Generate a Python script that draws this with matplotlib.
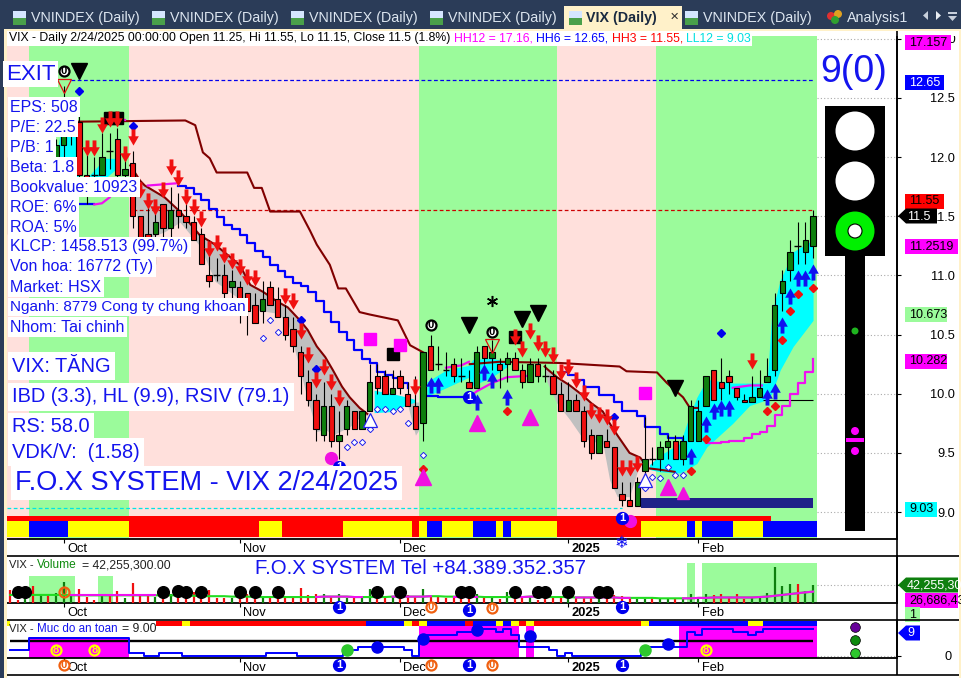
import numpy as np
import matplotlib
matplotlib.use('Agg')

import matplotlib.pyplot as plt
from matplotlib.path import Path
from matplotlib.patches import Rectangle, Circle, Polygon

plt.rcParams['font.family'] = ['Liberation Sans', 'DejaVu Sans']

# daily bars, index 0..105
opens = [12.0,11.9,11.7,11.95,11.75,11.95,11.85,12.1,12.2,12.3,11.85,11.85,11.85,12.05,12.15,11.85,11.95,11.5,11.35,11.35,
         11.6,11.4,11.55,11.5,11.45,11.35,11.0,11.0,11.0,10.9,10.9,10.85,10.75,10.7,10.9,10.8,10.65,10.55,10.35,10.1,
         9.95,9.65,9.9,9.6,9.7,9.85,9.7,9.85,10.15,10.15,10.0,10.15,10.0,9.9,9.75,10.4,10.25,10.2,10.25,10.15,
         10.1,10.05,10.4,10.3,10.25,10.25,10.3,10.2,10.1,10.25,10.15,10.15,10.0,9.85,9.95,9.85,9.65,9.5,9.6,9.55,
         9.15,9.1,9.05,9.35,9.45,9.45,9.55,9.6,9.45,9.6,9.6,9.9,10.2,10.1,10.15,10.05,9.95,9.93,9.97,10.1,
         10.2,10.85,11.05,11.25,11.2,11.25]
highs = [12.0,12.0,11.9,12.0,12.0,12.05,12.15,12.6,12.4,12.35,12.05,12.0,12.2,12.2,12.25,12.05,12.05,11.5,11.6,11.55,
         11.6,11.75,11.7,11.6,11.5,11.4,11.3,11.15,11.1,11.05,10.95,10.85,10.85,10.95,10.95,10.9,10.75,10.65,10.4,10.2,
         10.0,10.1,10.0,9.85,9.95,9.85,9.85,10.25,10.25,10.2,10.2,10.2,10.1,10.15,10.35,10.5,10.4,10.35,10.3,10.3,
         10.2,10.4,10.4,10.45,10.3,10.35,10.35,10.25,10.3,10.3,10.25,10.2,10.1,10.1,10.0,9.9,9.7,9.65,9.7,9.55,
         9.25,9.25,9.3,9.8,9.55,9.6,9.65,9.65,9.65,9.95,9.95,10.15,10.2,10.3,10.2,10.05,10.0,10.15,10.2,10.3,
         10.85,11.05,11.3,11.45,11.45,11.55]
lows = [11.25,11.5,11.5,11.7,11.6,11.8,11.8,12.0,12.1,11.75,11.6,11.7,11.85,11.9,11.8,11.8,11.4,11.2,11.05,11.1,
        11.3,11.25,11.4,11.4,11.3,11.1,10.9,10.95,10.8,10.8,10.6,10.5,10.6,10.6,10.75,10.65,10.45,10.35,10.0,9.9,
        9.6,9.6,9.55,9.45,9.65,9.7,9.7,9.85,10.0,10.0,10.0,10.0,9.9,9.7,9.6,10.2,10.2,10.15,10.1,10.1,
        10.05,10.05,10.25,10.2,10.05,10.1,10.2,10.05,10.1,10.1,10.1,10.0,9.85,9.85,9.85,9.55,9.45,9.5,9.55,9.2,
        9.05,9.05,9.05,9.25,9.4,9.35,9.45,9.45,9.4,9.6,9.6,9.9,9.95,9.95,10.0,9.95,9.93,9.93,9.97,10.1,
        10.15,10.7,10.95,11.1,11.1,11.15]
closes = [11.35,11.6,11.85,11.75,11.95,11.85,12.1,12.2,12.3,11.85,11.7,11.85,12.0,12.05,11.85,11.9,11.5,11.25,11.2,11.45,
          11.4,11.55,11.5,11.45,11.3,11.1,10.95,11.0,10.85,10.95,10.75,10.7,10.6,10.8,10.75,10.65,10.5,10.4,10.15,9.95,
          9.7,9.9,9.6,9.65,9.9,9.7,9.85,10.1,10.05,10.0,10.05,10.05,9.9,9.7,10.35,10.2,10.25,10.2,10.15,10.15,
          10.05,10.35,10.3,10.35,10.2,10.3,10.2,10.1,10.25,10.15,10.15,10.0,9.85,9.95,9.85,9.6,9.5,9.65,9.55,9.2,
          9.1,9.05,9.25,9.45,9.45,9.55,9.6,9.45,9.6,9.9,9.85,10.15,9.95,10.05,10.1,9.97,9.93,9.97,10.05,10.15,
          10.75,10.95,11.2,11.25,11.3,11.5]

volumes = [31,8,12,39,18,22,23,49,18,34,14,6,18,16,28,12,46,18,20,14,
           20,20,14,14,25,12,31,12,12,12,33,20,10,14,12,25,14,16,36,18,
           20,22,16,22,12,16,16,33,14,12,16,10,18,14,33,16,14,12,16,10,
           12,20,12,14,10,25,10,12,14,8,10,16,12,10,14,12,14,10,12,18,
           16,12,10,10,12,12,12,10,12,22,10,22,18,22,12,20,10,14,14,24,
           84.5,41,45,45,28,42.3]
vol_ma = [19,19,19,19,19,19,19,19,18,18,18,18,18,18,18,18,18,18,18,18,
          18,18,18,17,17,16,16,16,16,15,15,15,14,14,14,14,14,14,14,14,
          14,15,15,15,15,14,14,14,14,14,15,15,15,15,15,16,16,15,15,15,
          15,15,14,14,14,14,14,14,15,15,14,14,14,14,13,13,13,13,13,13,
          12,12,12,12,12,11,11,11,11,11,12,12,13,13,13,13,13,13,14,15,
          17,19,21,23,25,26.7]
ma_magenta = [(8,20),(40,47),(50,56),(58,62),(66,70),(74,82),(88,106)]

safety = [2,2,2,6,6,6,6,6,6,6,6,6,6,6,6,6,1,1,0,0,
          1,1,1,0,0,0,0,0,0,0,0,0,0,0,1,1,1,1,0,0,
          0,0,0,0,2,2,3,3,3,3,3,3,2,0,6,7,7,7,7,8,
          8,9,9,9,8,9,7,3,3,3,3,2,0,1,0,0,0,0,0,0,
          0,0,0,2,3,3,3,3,3,8,7,9,9,9,9,8,8,7,8,9,
          9,9,9,9,9,9]

months = ['Oct','Nov','Dec','2025','Feb']
month_idx = [7,30,51,73,90]

# background regimes: start, end, colour
regimes = [(-0.42,2.5,'#FFE0DC'),(2.5,15.5,'#9BFB9B'),(15.5,53.5,'#FFE0DC'),(53.5,71.5,'#9BFB9B'),(71.5,84.5,'#FFE0DC'),(84.5,105.5,'#9BFB9B')]
strip_runs = [('y',3),('b',5),('y',8),('r',17),('y',3),('r',8),('y',9),('r',1),('y',1),('b',2),('y',4),('b',3),('y',1),('b',1),('y',6),('r',11),('y',6),('b',1),('y',1),('b',4),('y',4),('b',7)]
safety_runs = [('y',1),('r',22),('y',1),('r',23),('b',5),('y',1),('r',1),('y',1),('b',5),('r',1),('b',3),('y',1),('b',1),('y',1),('r',1),('y',1),('r',14),('y',1),('b',13),('y',2),('b',7)]

# trailing lines
stop_a_i = [9,22.9,24.2,25.2,26.1,27,31,31.9,32.9,34,37.9,39.2,40.1,41.8,42.9,43.9,45.7,47,50.7,52.3,54]
stop_a_v = [12.3,12.31,12.27,12.04,11.99,11.87,11.87,11.74,11.74,11.54,11.54,11.38,11.26,11.09,10.89,10.89,10.69,10.67,10.62,10.41,10.35]
stop_b_i = [60.1,64,71.9,79.7,80.6,84.6,85.9,88,88.9,89.9]
stop_b_v = [10.25,10.27,10.26,10.23,10.19,10.18,10.09,9.97,9.88,9.88]

gray1_i = [15.7,17,17.6,20.2,22.2,24.8,26.8,30,31.4,33.1,34.9,36.3,37.9,38.9,40.1,41.2,42.2,43.4,44.4,45.7,46.7]
gray1_top = [11.93,11.8,11.76,11.66,11.54,11.34,11.26,11.09,10.92,10.86,10.78,10.73,10.62,10.54,10.4,10.31,10.2,10.06,9.97,9.88,9.83]
gray1_bot = [11.92,11.3,11.3,11.37,11.45,11.25,10.95,10.8,10.72,10.7,10.68,10.6,10.2,9.95,9.68,9.7,9.65,9.69,9.72,9.8,9.82]
gray2_i = [69.9,70.2,71.5,73.2,74.8,76,77.5,78.4,79.4,81,82.4,83.4,84.7,86.9]
gray2_top = [10.23,10.21,10.14,10.07,9.99,9.92,9.85,9.75,9.65,9.5,9.46,9.37,9.36,9.34]
gray2_bot = [10.22,10.1,9.92,9.78,9.63,9.6,9.58,9.27,9.13,9.13,9.42,9.37,9.36,9.34]
gray3_i = [52,53,53.5]
gray3_top = [9.93,9.93,9.93]
gray3_bot = [9.9,9.65,9.7]

cyan1_i = [5.9,6.5,8.5,8.9,9.8,10.4,12.4,14.4]
cyan1_top = [11.93,12.19,12.23,11.82,11.82,11.85,11.99,11.99]
cyan1_bot = [11.85,11.82,11.82,11.82,11.82,11.82,11.82,11.93]
cyan2_i = [47.6,50,52,53]
cyan2_top = [10.03,10.0,9.97,9.95]
cyan2_bot = [9.84,9.85,9.91,9.93]
cyan3_i = [54.5,57,60,60.5,63,65]
cyan3_top = [10.1,10.2,10.24,10.29,10.3,10.27]
cyan3_bot = [9.98,10.05,10.14,10.07,10.14,10.23]
cyan4_i = [83.6,85,87.6,88.5,89.8,91.1,94.5,96.7,99,99.6,100.7,102.4,105]
cyan4_top = [9.4,9.48,9.58,9.75,9.97,10.12,10.09,10.09,10.09,10.68,10.96,11.2,11.3]
cyan4_bot = [9.36,9.34,9.33,9.36,9.41,9.55,9.75,9.9,9.95,10.0,10.2,10.4,10.62]

# moving average pieces, blue falling and magenta rising
blue_a_i = list(range(22,53))
blue_a_v = [11.76,11.74,11.69,11.64,11.56,11.49,11.43,11.39,11.34,11.27,11.21,11.16,11.09,11.04,10.99,10.94,10.91,10.86,10.78,10.69,
            10.61,10.52,10.45,10.37,10.29,10.26,10.18,10.16,10.13,10.09,10.05]
blue_b_i = [54,55,56,57,58,59,60]
blue_b_v = [9.98,9.98,9.97,9.97,9.97,9.97,9.97]
blue_c_i = list(range(72,89))
blue_c_v = [10.18,10.16,10.12,10.06,10.06,9.99,9.99,9.93,9.85,9.85,9.81,9.72,9.72,9.66,9.63,9.63,9.58]
blue_d_i = [9,10,11]
blue_d_v = [11.6,11.6,11.6]
mag_pieces = [([11,12,13],[11.6,11.61,11.66]),
              ([14,15],[12.31,12.31]),
              ([18,20,22],[11.76,11.77,11.78]),
              ([57,59,60],[10.22,10.24,10.27]),
              ([60,61,63,65,67.5],[9.97,10.02,10.09,10.14,10.15]),
              ([94.5,96.7,98.3],[10.05,10.07,10.07])]
mag_step_i = [91,93,94,96,97,98,99,100,101,102,103,104,105]
mag_step_v = [9.58,9.59,9.6,9.63,9.66,9.68,9.73,9.82,9.9,10.0,10.09,10.18,10.29]

# signals
down_i = [10,11,12,13,14,15,16,17,18,19,20,21,22,23,24,25,26,27,28,29,30,31,32,36,37,38,39,40,41,42,43,53,66,67,68,69,70,71,72,73,74,75,76,77,78,79,80,81,82,97]
down_v = [12.08,12.08,12.27,12.32,12.32,12.03,12.17,11.72,11.63,11.58,11.72,11.92,11.82,11.66,11.58,11.48,11.22,11.27,11.17,11.12,11.07,10.99,10.98,
          10.83,10.78,10.53,10.33,10.12,10.23,10.10,9.96,10.06,10.48,10.38,10.53,10.43,10.38,10.33,10.18,10.23,10.12,10.01,9.85,9.82,9.80,9.72,9.37,9.37,9.41,10.28]
up_i = [55,56,61,62,63,65,89,91,92,93,94,99,100,101,102,103,104,105]
up_v = [10.07,10.07,9.93,10.18,10.12,9.97,9.47,9.74,9.85,9.88,9.88,9.97,10.02,10.58,10.83,10.98,10.98,11.03]
hollow_i = [33,34,35,44,45,46,47,48,49,50,51,52,54,83,84,85,86,87,88]
hollow_v = [10.47,10.62,10.52,9.55,9.59,9.59,9.7,9.87,9.87,9.85,9.87,9.75,9.48,9.2,9.3,9.29,9.38,9.31,9.31]
bluedot_i = [9,16,38,40,79,93]
bluedot_v = [12.56,12.26,10.62,10.21,9.8,10.51]
reddot_i = [54,65,89,91,99,100,101,102,103,105]
reddot_v = [9.36,9.85,9.35,9.62,9.85,9.9,10.45,10.7,10.84,10.89]
blacktri_i = [9,60,67,69,87]
blacktri_v = [12.73,10.58,10.63,10.68,10.05]
magtri_i = [54,61,68,86]
magtri_v = [9.3,9.75,9.8,9.21]
magsq_i = [47,51,83]
magsq_v = [10.46,10.41,10.01]
blacksq_i = [13,14,50,66]
blacksq_v = [12.33,12.33,10.34,10.48]
magdot_i = [42,81]
magdot_v = [9.46,8.92]
opentri_i = [47,83]
opentri_v = [9.78,9.27]
redtri_i = [7,63]
redtri_v = [12.6,10.4]
zero_i = [7,55,63]
zero_v = [12.73,10.58,10.52]
one_i = [43,60,80]
one_v = [9.38,9.97,8.95]

vol_dot_i = [1,2,20,22,23,25,30,32,35,48,51,59,60,66,69,70,73,77,78]
vol_dot_v = [26,26,26,28,26,27,27,26,26,26,26,26,26,27,26,27,26,26,26]
eight_i = [6,11,91]
bigblue_i = [48,54,61,68,86]
bigblue_v = [3,5.7,8.7,6.7,4]
biggreen_i = [44,83]
below_one_i = [43,60,80]
below_zero_i = [7,55,63]


def pane(left, top, right, bottom):
    a = fig.add_axes([left/961, 1-bottom/678, (right-left)/961, (bottom-top)/678])
    a.set_xlim(-0.4185, 115.98)
    for s in ['top','left']:
        a.spines[s].set_visible(False)
    a.spines['right'].set_linewidth(1.3)
    a.spines['bottom'].set_linewidth(1.3)
    a.set_xticks(month_idx)
    a.set_xticklabels([])
    a.tick_params(axis='x', length=3, width=0.8)
    for i, m in zip(month_idx, months):
        a.annotate(m, (i,0), xycoords=a.get_xaxis_transform(), xytext=(2.4,-3), textcoords='offset points',
                   va='top', ha='left', fontsize=9.3, fontweight='bold' if m == '2025' else 'normal', annotation_clip=False)
    return a


def draw_runs(a, runs, bottom, height):
    cmap = {'y':'#FFFF00','b':'#0000FF','r':'#FF0000'}
    pos = 0
    for code, n in runs:
        a.bar(np.arange(pos,pos+n), height, bottom=bottom, width=1.0, color=cmap[code], zorder=2)
        pos += n


def circled(a, i, v, txt, edge, face, tcol, ms=12.0):
    a.plot([i],[v],'o',ms=ms*0.72,mfc=face,mec=edge,mew=1.6,clip_on=False,zorder=8)
    a.text(i,v,txt,color=tcol,fontsize=8,fontweight='bold',ha='center',va='center',clip_on=False,zorder=9)


arrow_down = Path([(-0.24,1),(0.24,1),(0.24,0.15),(0.66,0.15),(0,-1),(-0.66,0.15),(-0.24,0.15),(-0.24,1)], closed=True)
arrow_up = Path([(-0.24,-1),(0.24,-1),(0.24,-0.15),(0.66,-0.15),(0,1),(-0.66,-0.15),(-0.24,-0.15),(-0.24,-1)], closed=True)

fig = plt.figure(figsize=(9.61,6.78), dpi=100, facecolor='white')

ax = pane(7,36,897,539)
ax.set_ylim(8.772,13.024)
ax.yaxis.tick_right()
ax.set_yticks([9,9.5,10,10.5,11,11.5,12,12.5,13])
ax.set_yticklabels(['9.0','9.5','10.0','10.5','11.0','11.5','12.0','12.5','13.0'], ha='right', fontsize=9.2)
ax.tick_params(axis='y', length=3, width=0.8, pad=39)

for a0, a1, col in regimes:
    ax.axvspan(a0, a1, color=col, lw=0, zorder=0)
ax.hlines([9,9.5,10,10.5,11,11.5,12,12.5,13], 105.5, 115.98, color='#AAAAAA', lw=0.8, ls=(0,(1,2)), zorder=1)

ax.bar(np.arange(0,100), 0.043, bottom=8.924, width=1.0, color='#FF0000', zorder=2)
draw_runs(ax, strip_runs, 8.79, 0.134)

ax.fill_between(gray1_i, gray1_top, gray1_bot, color='#C0C0C0', lw=0, zorder=2)
ax.fill_between(gray2_i, gray2_top, gray2_bot, color='#C0C0C0', lw=0, zorder=2)
ax.fill_between(gray3_i, gray3_top, gray3_bot, color='#C0C0C0', lw=0, zorder=2)
for ci, ct, cb in [(cyan1_i,cyan1_top,cyan1_bot),(cyan2_i,cyan2_top,cyan2_bot),(cyan3_i,cyan3_top,cyan3_bot),(cyan4_i,cyan4_top,cyan4_bot)]:
    ax.fill_between(ci, ct, cb, color='#00FFFF', lw=0, zorder=2)

ax.fill_between([82.5,105], [9.03,9.03], [9.12,9.12], color='#1F2288', lw=0, zorder=3)
ax.hlines(12.65, 8, 105, color='#0000EE', lw=0.9, ls=(0,(3,2)), zorder=3)
ax.hlines(11.55, 16, 105, color='#CC0000', lw=0.9, ls=(0,(3,2)), zorder=3)
ax.hlines(9.03, -0.4, 80, color='#00E5E5', lw=0.9, ls=(0,(3,2)), zorder=3)
ax.hlines(9.95, 98.5, 105, color='black', lw=0.8, zorder=3)

ax.plot(stop_a_i, stop_a_v, color='#800000', lw=1.5, zorder=3)
ax.plot(stop_b_i, stop_b_v, color='#800000', lw=1.5, zorder=3)
ax.plot(gray1_i, gray1_top, color='#800000', lw=1.5, zorder=3)
ax.plot(gray2_i, gray2_top, color='#800000', lw=1.5, zorder=3)

for bi, bv in [(blue_a_i,blue_a_v),(blue_b_i,blue_b_v),(blue_c_i,blue_c_v),(blue_d_i,blue_d_v)]:
    ax.plot(bi, bv, color='#0000FF', lw=1.6, drawstyle='steps-post', zorder=3)
for mi, mv in mag_pieces:
    ax.plot(mi, mv, color='#F010F0', lw=1.6, zorder=3)
ax.plot(mag_step_i, mag_step_v, color='#F010F0', lw=1.6, drawstyle='steps-post', zorder=3)

idx = np.arange(len(opens))
o = np.array(opens); h = np.array(highs); l = np.array(lows); c = np.array(closes)
ax.vlines(idx, l, h, color='black', lw=0.8, zorder=4)
up = c > o
down = c < o
flat = c == o
ax.bar(idx[up], (c-o)[up], bottom=o[up], width=0.7, color='#0E7F0E', edgecolor='black', lw=0.8, zorder=5)
ax.bar(idx[down], (o-c)[down], bottom=c[down], width=0.7, color='#F01010', edgecolor='black', lw=0.8, zorder=5)
ax.hlines(c[flat], idx[flat]-0.45, idx[flat]+0.45, color='black', lw=1.0, zorder=5)

ax.plot(hollow_i, hollow_v, 'D', ms=3.2, mfc='white', mec='#2222EE', mew=0.7, ls='', zorder=6)
ax.plot(bluedot_i, bluedot_v, 'D', ms=3.8, color='#0000EE', ls='', zorder=6)
ax.plot(reddot_i, reddot_v, 'D', ms=3.6, color='#EE1010', ls='', zorder=6)
ax.plot(opentri_i, opentri_v, '^', ms=9.5, mfc='white', mec='#2222EE', mew=0.9, ls='', zorder=6)
ax.plot(redtri_i, redtri_v, 'v', ms=9.5, mfc='none', mec='#E01010', mew=0.9, ls='', zorder=6)
ax.plot(blacksq_i, blacksq_v, 's', ms=8.5, color='black', ls='', zorder=6)
ax.plot(magsq_i, magsq_v, 's', ms=8.5, color='#FF00FF', ls='', zorder=6)
ax.plot(blacktri_i, blacktri_v, 'v', ms=11, color='black', ls='', zorder=6)
ax.plot(magtri_i, magtri_v, '^', ms=11, color='#F010E0', ls='', zorder=6)
ax.plot([88], [9.16], '^', ms=8, color='#F010E0', zorder=6)
ax.plot(magdot_i, magdot_v, 'o', ms=8.5, color='#F010E0', ls='', zorder=6, clip_on=False)
ax.scatter(down_i, down_v, marker=arrow_down, s=135, color='#F01010', lw=0, zorder=7)
ax.scatter(up_i, up_v, marker=arrow_up, s=135, color='#1010F0', lw=0, zorder=7)
ax.plot([63], [10.78], marker=(6,2,0), ms=8, color='black', mew=1.1, zorder=7)
for zi, zv in zip(zero_i, zero_v):
    circled(ax, zi, zv, '0', 'black', 'white', 'black', 10)
for oi, ov_v in zip(one_i, one_v):
    circled(ax, oi, ov_v, '1', '#0000EE', '#0000EE', 'white', 11)
ax.text(80, 8.74, '\u2744', color='#1010F0', fontsize=12, ha='center', va='center', family='DejaVu Sans', clip_on=False, zorder=7)
ax.text(43, 9.12, '\u2744', color='#1010F0', fontsize=5, ha='center', va='center', family='DejaVu Sans', zorder=7)

# volume pane
vax = pane(7,556,897,603)
vax.set_ylim(0,110.45)
vax.yaxis.tick_right()
vax.set_yticks([42.255])
vax.set_yticklabels([''])
vax.tick_params(axis='y', length=3, width=0.8)
vax.hlines(42.255, 105.5, 115.98, color='#AAAAAA', lw=0.8, ls=(0,(1,2)))
for s0, s1, top in [(2.5,8.5,63.5),(11.5,13.5,63.5),(88.5,89.5,94),(90.5,105.5,94)]:
    vax.fill_between([s0,s1],[0,0],[top,top],color='#9BFB9B',lw=0,zorder=1)
vcol = ['#0E7F0E' if x else '#F01010' for x in (c > o)]
vax.vlines(idx, 0, volumes, colors=vcol, lw=1.6, zorder=3)
vax.plot(idx, vol_ma, color='#22DD22', lw=1.5, zorder=4)
for m0, m1 in ma_magenta:
    vax.plot(idx[m0:m1], vol_ma[m0:m1], color='#F010F0', lw=1.5, zorder=4)
vax.plot(vol_dot_i, vol_dot_v, 'o', ms=8.4, color='black', ls='', zorder=6)
circled(vax, 7, 26, '0', '#F06010', 'none', '#F06010', 10)
for vi, vv in zip(below_one_i, [-9.4,-16,-9.4]):
    circled(vax, vi, vv, '1', '#0000EE', '#0000EE', 'white', 11)
for vi, vv in zip(below_zero_i[1:], [-9.4,-12]):
    circled(vax, vi, vv, '0', '#F06010', 'white', '#F06010', 10)

# safety pane
sax = pane(7,620,897,658)
sax.set_ylim(-0.67,12)
sax.yaxis.tick_right()
sax.set_yticks([0])
sax.set_yticklabels(['0'], ha='right', fontsize=9.2)
sax.tick_params(axis='y', length=3, width=0.8, pad=36)
sax.hlines(0, 105.5, 115.98, color='#AAAAAA', lw=0.8, ls=(0,(1,2)))
for s0, s1, top in [(2.5,15.5,6.3),(53.5,66.5,10),(67.5,68.5,10),(87.5,105.5,10)]:
    sax.fill_between([s0,s1],[-0.67,-0.67],[top,top],color='#FF00FF',lw=0,zorder=1)
draw_runs(sax, safety_runs, 9.9, 1.7)
sax.hlines(5, 0, 105, color='black', lw=1.7, zorder=3)
sax.plot(idx, safety, color='#0000FF', lw=1.4, drawstyle='steps-mid', zorder=4)
sax.plot(biggreen_i, [2,2], 'o', ms=8, color='#2DC82D', ls='', zorder=5)
sax.plot(bigblue_i, bigblue_v, 'o', ms=8, color='#0000EE', ls='', zorder=5)
for ei in eight_i:
    circled(sax, ei, 2, '8', '#FFFF00', '#FF00FF', '#FFFF00', 10)
for vi in below_one_i:
    circled(sax, vi, -3, '1', '#0000EE', '#0000EE', 'white', 11)
for vi in below_zero_i:
    circled(sax, vi, -3, '0', '#F06010', 'white', '#F06010', 10)
sax.plot([110.5], [9.7], 'o', ms=7, mfc='#660099', mec='black', mew=0.5, clip_on=False, zorder=5)
sax.plot([110.5], [5.3], 'o', ms=7, mfc='#0E8A0E', mec='black', mew=0.5, clip_on=False, zorder=5)
sax.plot([110.5], [1], 'o', ms=7, mfc='#2DC82D', mec='black', mew=0.5, clip_on=False, zorder=5)

# overlay in pixel coordinates: window chrome, labels, traffic light
ov = fig.add_axes([0,0,1,1], zorder=20)
ov.set_xlim(0,961)
ov.set_ylim(678,0)
ov.axis('off')
ov.patch.set_alpha(0)

ov.add_patch(Rectangle((0,0),961,29,color='#2B3C58',lw=0))
ov.add_patch(Rectangle((0,0),4,678,color='#2B3C58',lw=0))
ov.add_patch(Rectangle((4,29),3,649,color='#FFF1C9',lw=0))
ov.add_patch(Rectangle((4,29),957,2,color='#FFF1C9',lw=0))
ov.add_patch(Rectangle((959,29),2,649,color='#FFF1C9',lw=0))
ov.add_patch(Rectangle((7,31),952,5,color='white',lw=0))
ov.add_patch(Rectangle((564,6),118,24,color='#FFF1C9',lw=0))
tab_x = [31,170,309,448,703]
for tx in tab_x:
    ov.text(tx,18,'VNINDEX (Daily)',color='#DDE6F0',fontsize=10.3,va='center',ha='left')
    ov.add_patch(Rectangle((tx-18,11),13,14,color='#D5E6FF',lw=0))
    ov.add_patch(Rectangle((tx-18,18),13,7,color='#4AA04A',lw=0))
ov.add_patch(Rectangle((569,11),13,14,color='#D5E6FF',lw=0))
ov.add_patch(Rectangle((569,18),13,7,color='#4AA04A',lw=0))
ov.text(586,18,'VIX (Daily)',color='#1A2A40',fontsize=10.3,fontweight='bold',va='center')
ov.text(670,17,'\u2715',color='#303030',fontsize=8,va='center',family='DejaVu Sans')
ov.add_patch(Circle((831,16),4,color='#E03030',lw=0))
ov.add_patch(Circle((838,14),4,color='#E0A020',lw=0))
ov.add_patch(Circle((835,20),4,color='#30A030',lw=0))
ov.text(847,18,'Analysis1',color='#DDE6F0',fontsize=10.3,va='center')
ov.add_patch(Polygon([(928,11),(928,20),(923,15.5)],color='#C8D0DC',lw=0))
ov.add_patch(Polygon([(936,11),(936,20),(941,15.5)],color='#E8ECF2',lw=0))
ov.add_patch(Rectangle((948,12),9,2,color='#C8D0DC',lw=0))
ov.add_patch(Polygon([(948,16),(957,16),(952.5,21)],color='#C8D0DC',lw=0))

# pane separators, some run through to the window edge
ov.vlines(897,31,675,color='black',lw=1.2)
ov.hlines([556,620,675],7,959,color='black',lw=1.2)

title_parts = [('VIX - Daily 2/24/2025 00:00:00 Open 11.25, Hi 11.55, Lo 11.15, Close 11.5 (1.8%) ','black'),
               ('HH12 = 17.16, ','#FF00FF'),('HH6 = 12.65, ','#0000FF'),('HH3 = 11.55, ','#FF0000'),('LL12 = 9.03','#00E0E0')]
ov.add_patch(Rectangle((7,31),745,15,color='white',lw=0))
tx = 9.0
rend = fig.canvas.get_renderer()
for txt, col in title_parts:
    t = ov.text(tx,38.5,txt.replace(' ','\u00a0'),color=col,fontsize=8.8,va='center',ha='left')
    tx = t.get_window_extent(rend).x1

box = dict(facecolor='white', edgecolor='none', pad=1.6)
info = ['EPS: 508','P/E: 22.5','P/B: 1','Beta: 1.8','Bookvalue: 10923','ROE: 6%','ROA: 5%','KLCP: 1458.513 (99.7%)','Von hoa: 16772 (Ty)','Market: HSX','Nganh: 8779 Cong ty chung khoan','Nhom: Tai chinh']
info_size = [11.5,11.5,11.5,11.5,11.4,11.5,11.5,11.5,11.4,11.5,11.0,11.5]
for k, s in enumerate(info):
    ov.text(10.5,107+20*k,s,color='#1414EE',fontsize=info_size[k],va='center',ha='left',bbox=box)
ov.text(6,74,'EXIT',color='#1414EE',fontsize=16,va='center',ha='left',bbox=dict(facecolor='white', edgecolor='none', pad=2))
box2 = dict(facecolor='white', edgecolor='none', pad=3)
ov.text(12,366,'VIX: T\u0102NG',color='#1414EE',fontsize=14.4,va='center',bbox=box2)
ov.text(12,397,'IBD (3.3), HL (9.9), RSIV (79.1)',color='#1414EE',fontsize=14.4,va='center',bbox=box2)
ov.text(12,427,'RS: 58.0',color='#1414EE',fontsize=14.4,va='center',bbox=box2)
ov.text(12,452,'VDK/V:\u00a0\u00a0(1.58)',color='#1414EE',fontsize=14.4,va='center',bbox=box2)
ov.text(15,483,'F.O.X SYSTEM - VIX 2/24/2025',color='#1414EE',fontsize=19.5,va='center',bbox=box2)
ov.text(853.5,72,'9(0)',color='#1414EE',fontsize=27,va='center',ha='center')
ov.text(255,569,'F.O.X SYSTEM Tel +84.389.352.357',color='#1414EE',fontsize=14.7,va='center')
ov.text(9,565.5,'VIX -',color='#222222',fontsize=8,va='center')
ov.text(37,565.5,'Volume',color='#0E8A0E',fontsize=8.6,va='center')
ov.text(82,565.5,'= 42,255,300.00',color='#222222',fontsize=8.8,va='center')
ov.add_patch(Rectangle((10,621),146,14,color='white',lw=0))
ov.text(9,629.5,'VIX -',color='#222222',fontsize=8,va='center')
ov.text(37,629.5,'Muc do an toan',color='#1414EE',fontsize=8.4,va='center')
ov.text(122,629.5,'= 9.00',color='#222222',fontsize=8.8,va='center')

# traffic light
ov.add_patch(Rectangle((825,106),60,150,color='black',lw=0))
ov.add_patch(Rectangle((845,256),20,275,color='black',lw=0))
ov.add_patch(Circle((855,131),19.5,color='white',lw=0))
ov.add_patch(Circle((855,181),19.5,color='white',lw=0))
ov.add_patch(Circle((855,231),19.5,color='#00F000',lw=0))
ov.add_patch(Circle((855,231),7,facecolor='white',edgecolor='black',lw=0.8))
ov.add_patch(Circle((855,331),3.5,color='#1FB41F',lw=0))
ov.add_patch(Circle((855,431),4,color='#FF00FF',lw=0))
ov.add_patch(Rectangle((846,438),18,4,color='#FF00FF',lw=0))
ov.add_patch(Circle((855,451),4,color='#FF00FF',lw=0))

# price tags on the right axis
tags = [(905,951,42,'17.157','#FF00FF','black'),(905,944,82,'12.65','#0000FF','white'),(905,944,201,'11.55','#FF0000','black'),
        (905,958,246,'11.2519','#FF00FF','black'),(905,947,314,'10.673','#9BFB9B','black'),(905,947,361,'10.282','#FF00FF','black'),
        (905,937,509,'9.03','#00FFFF','black'),(905,958,600,'26,686,43','#FF00FF','black'),(905,920,614,'1','#9BFB9B','black')]
for x0, x1, yc, s, bg, fc in tags:
    ov.add_patch(Rectangle((x0,yc-7.5),x1-x0,15,color=bg,lw=0))
    ov.text(x0+4,yc+0.5,s,color=fc,fontsize=9,va='center',ha='left')
arrows = [(898,937,216,'11.5','black','white'),(898,958,585,'42,255,30','#0E7F0E','white'),(898,920,633,'9','#0000FF','white')]
for x0, x1, yc, s, bg, fc in arrows:
    ov.add_patch(Polygon([(x0,yc),(x0+8,yc-7.5),(x1,yc-7.5),(x1,yc+7.5),(x0+8,yc+7.5)],color=bg,lw=0))
    ov.text(x0+9,yc+0.5,s,color=fc,fontsize=9,va='center',ha='left')

fig.savefig('out.png', dpi=100)
